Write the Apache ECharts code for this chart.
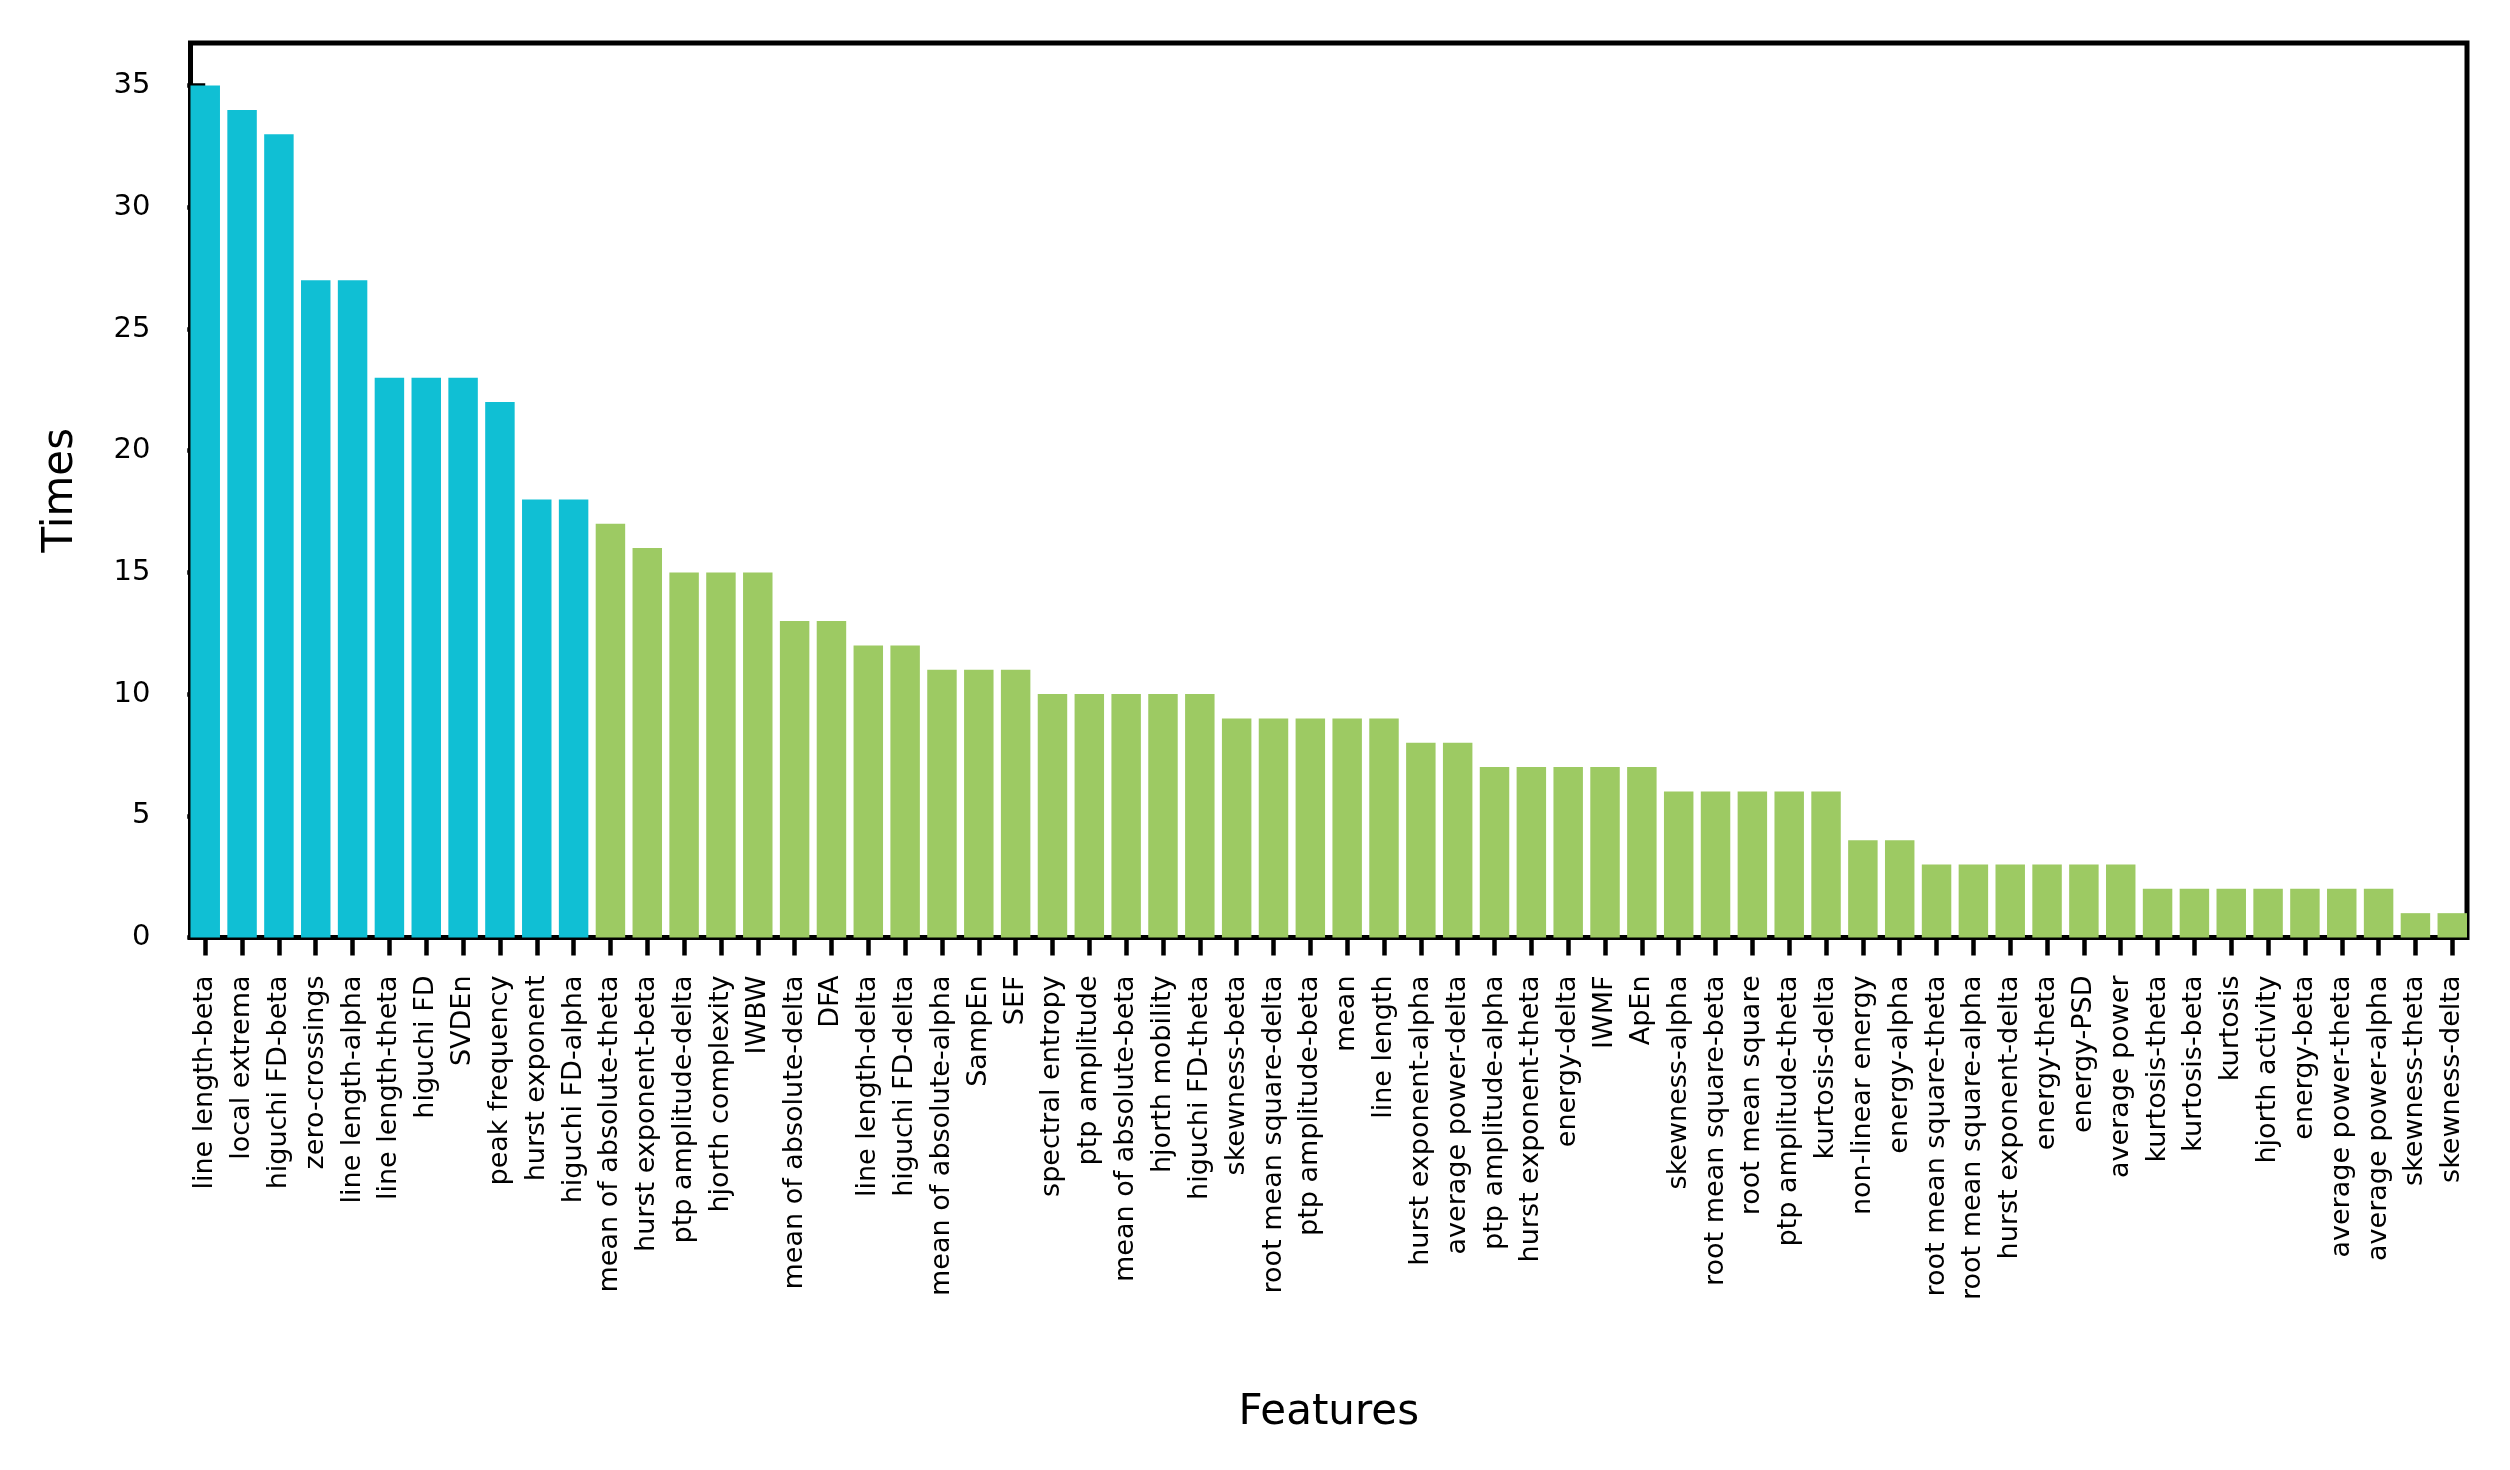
<!DOCTYPE html>
<html>
<head>
<meta charset="utf-8">
<script src="https://cdn.jsdelivr.net/npm/echarts@6/dist/echarts.min.js"></script>
<style>
  html, body { margin: 0; padding: 0; background: #ffffff; }
  #chart { width: 2510px; height: 1470px; }
</style>
</head>
<body>
<div id="chart"></div>
<script>
const categories = [
  "line length-beta", "local extrema", "higuchi FD-beta", "zero-crossings", "line length-alpha",
  "line length-theta", "higuchi FD", "SVDEn", "peak frequency", "hurst exponent",
  "higuchi FD-alpha", "mean of absolute-theta", "hurst exponent-beta", "ptp amplitude-delta", "hjorth complexity",
  "IWBW", "mean of absolute-delta", "DFA", "line length-delta", "higuchi FD-delta",
  "mean of absolute-alpha", "SampEn", "SEF", "spectral entropy", "ptp amplitude",
  "mean of absolute-beta", "hjorth mobility", "higuchi FD-theta", "skewness-beta", "root mean square-delta",
  "ptp amplitude-beta", "mean", "line length", "hurst exponent-alpha", "average power-delta",
  "ptp amplitude-alpha", "hurst exponent-theta", "energy-delta", "IWMF", "ApEn",
  "skewness-alpha", "root mean square-beta", "root mean square", "ptp amplitude-theta", "kurtosis-delta",
  "non-linear energy", "energy-alpha", "root mean square-theta", "root mean square-alpha", "hurst exponent-delta",
  "energy-theta", "energy-PSD", "average power", "kurtosis-theta", "kurtosis-beta",
  "kurtosis", "hjorth activity", "energy-beta", "average power-theta", "average power-alpha",
  "skewness-theta", "skewness-delta"
];
const times = [
  35, 34, 33, 27, 27,
  23, 23, 23, 22, 18,
  18, 17, 16, 15, 15,
  15, 13, 13, 12, 12,
  11, 11, 11, 10, 10,
  10, 10, 10, 9, 9,
  9, 9, 9, 8, 8,
  7, 7, 7, 7, 7,
  6, 6, 6, 6, 6,
  4, 4, 3, 3, 3,
  3, 3, 3, 2, 2,
  2, 2, 2, 2, 2,
  1, 1
];
// number of leading features drawn in the highlight colour
const highlightCount = 11;
const yTicks = [0, 5, 10, 15, 20, 25, 30, 35];
const yMax = 36.75;

const cyan = '#10bfd4';
const green = '#9dca63';

const xTicks = categories.map((c, i) => i);
const barData = times.map((v, i) => ({
  value: [i, v],
  itemStyle: { color: i < highlightCount ? cyan : green }
}));

const chart = echarts.init(document.getElementById('chart'), null, { renderer: 'canvas' });
const font = 'DejaVu Sans';
chart.setOption({
  animation: false,
  backgroundColor: '#ffffff',
  grid: {
    left: 190.5, right: 43, top: 43, bottom: 532.5,
    show: true, borderColor: '#000000', borderWidth: 5, backgroundColor: 'transparent',
    containLabel: false
  },
  xAxis: {
    type: 'value',
    min: -0.4, max: categories.length - 0.6,
    name: 'Features',
    nameLocation: 'middle',
    nameGap: 455,
    nameTextStyle: { fontFamily: font, fontSize: 42, color: '#000' },
    axisLine: { show: false },
    splitLine: { show: false },
    axisTick: { show: true, length: 18, customValues: xTicks, lineStyle: { color: '#000', width: 4.5 } },
    axisLabel: {
      customValues: xTicks,
      rotate: 90,
      margin: 38,
      fontFamily: font, fontSize: 27, color: '#000',
      formatter: (v) => categories[Math.round(v)]
    }
  },
  yAxis: {
    type: 'value',
    min: 0, max: yMax,
    name: 'Times',
    nameLocation: 'middle',
    nameGap: 108,
    nameTextStyle: { fontFamily: font, fontSize: 42, color: '#000' },
    axisLine: { show: false },
    splitLine: { show: false },
    axisTick: { show: true, length: 18, customValues: yTicks, lineStyle: { color: '#000', width: 4.5 } },
    axisLabel: {
      customValues: yTicks,
      margin: 40,
      fontFamily: font, fontSize: 29, color: '#000'
    }
  },
  series: [{
    type: 'bar',
    data: barData,
    barWidth: '80%',
    itemStyle: { borderWidth: 0 }
  }]
});
</script>
</body>
</html>
